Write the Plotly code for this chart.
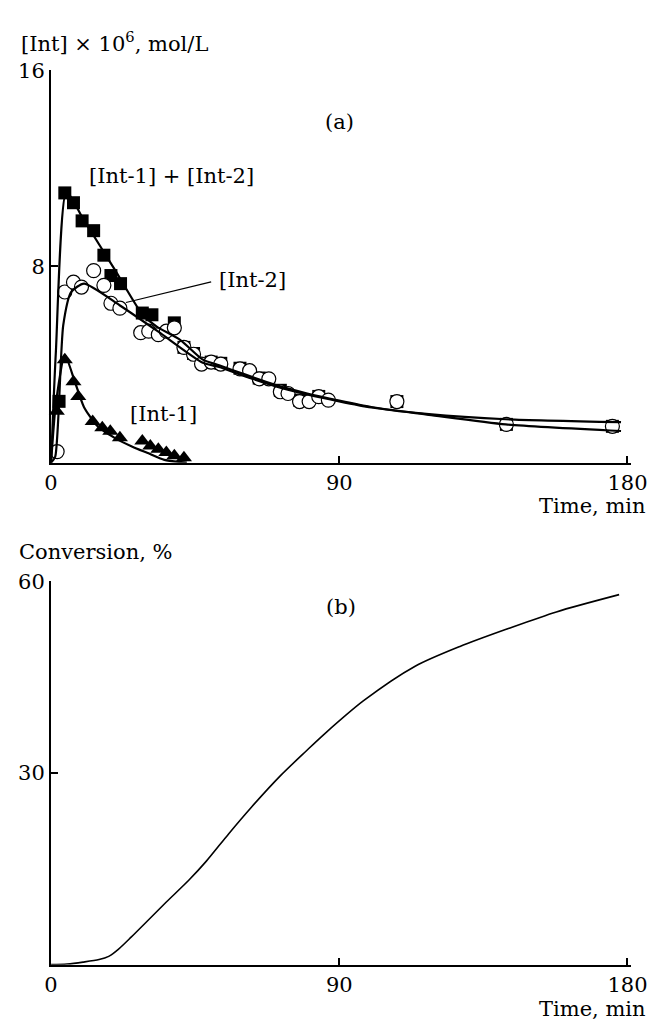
import plotly.graph_objects as go

# ---------------- data ----------------
# Panel (a): experimental points
sum_t = [2.5, 4.3, 7.0, 9.7, 13.3, 16.5, 18.7, 21.7, 28.5, 31.5, 38.5,
         41.5, 44.5, 50, 53, 59, 65, 71.6, 77.6, 83.6, 108, 142.2, 175.3]
sum_v = [2.5, 11.0, 10.6, 9.86, 9.46, 8.46, 7.63, 7.3, 6.1, 6.03, 5.7,
         4.7, 4.45, 4.1, 4.05, 3.85, 3.45, 2.95, 2.55, 2.7, 2.49, 1.56, 1.48]

int2_t = [1.9, 4.3, 7.0, 9.5, 13.3, 16.5, 18.7, 21.5, 28, 30.5, 33.5, 36, 38.5,
          41.5, 44.5, 47, 50, 53, 59, 62, 65, 68, 71.6, 74, 77.6, 80.6, 83.6,
          86.6, 108, 142.2, 175.3]
int2_v = [0.45, 6.96, 7.36, 7.16, 7.83, 7.23, 6.5, 6.3, 5.3, 5.36, 5.22, 5.36, 5.5,
          4.7, 4.42, 4.02, 4.1, 4.02, 3.82, 3.75, 3.42, 3.42, 2.89, 2.82, 2.49, 2.49,
          2.69, 2.55, 2.49, 1.56, 1.48]

int1_t = [1.8, 4.3, 7.0, 8.5, 13, 16, 18.5, 21.5, 28.5, 31, 33.5, 36, 38.5, 41.5]
int1_v = [2.1, 4.2, 3.3, 2.7, 1.68, 1.42, 1.28, 1.02, 0.88, 0.68, 0.55, 0.41, 0.28, 0.2]

# Panel (a): fitted curves
fit_sum_t = [0, 1.5, 4.8, 10, 20, 28.5, 33, 40.4, 47.4, 52.5, 60, 70, 80, 90, 100, 118, 142, 178]
fit_sum_v = [0, 4.5, 11.05, 9.95, 7.85, 6.05, 5.55, 5.0, 4.2, 3.97, 3.62, 3.17, 2.82, 2.53, 2.27, 1.98, 1.77, 1.65]

fit_int2_t = [0, 1.3, 3.8, 6.3, 10.3, 21.4, 33.4, 47.4, 52.5, 60, 70, 80, 90, 100, 118, 142, 178]
fit_int2_v = [0, 0.24, 5.6, 6.96, 7.3, 6.42, 5.35, 4.07, 3.9, 3.55, 3.12, 2.78, 2.5, 2.25, 1.95, 1.56, 1.29]

fit_int1_t = [0, 1.5, 4.3, 7.3, 10.3, 14.3, 20, 25.4, 30, 35.4, 42.4]
fit_int1_v = [0, 2.4, 4.4, 3.35, 2.26, 1.52, 1.0, 0.65, 0.4, 0.11, 0.0]

# Panel (b): conversion curve
conv_t = [0, 5, 10, 15, 18, 21, 25, 30, 36, 43, 48.5, 55.5, 62.5, 71.5, 79.6, 85.6,
          97.6, 113.7, 127.7, 142.8, 157.8, 177.4]
conv_v = [0, 0.1, 0.4, 0.8, 1.3, 2.4, 4.3, 6.8, 9.8, 13.2, 16.2, 20.5, 24.6, 29.5, 33.4,
          36.2, 41.3, 46.7, 49.8, 52.6, 55.2, 57.9]

# tick labels
x_ticks = [0, 90, 180]
ya_ticks = [8, 16]
yb_ticks = [30, 60]

# leader line of the [Int-2] label
leader_t = [23.4, 50]
leader_v = [6.53, 7.37]

# ---------------- figure ----------------
W, H = 665, 1020
FONT = "DejaVu Serif, Liberation Serif, serif"
FS = 21

fig = go.Figure()

# panel (a) markers
fig.add_trace(go.Scatter(x=sum_t, y=sum_v, mode="markers", xaxis="x", yaxis="y",
                         marker=dict(symbol="square", size=13, color="black",
                                     line=dict(width=0)), cliponaxis=False))
fig.add_trace(go.Scatter(x=int2_t, y=int2_v, mode="markers", xaxis="x", yaxis="y",
                         marker=dict(symbol="circle", size=14, color="white",
                                     line=dict(width=1.2, color="black")), cliponaxis=False))
fig.add_trace(go.Scatter(x=int1_t, y=int1_v, mode="markers", xaxis="x", yaxis="y",
                         marker=dict(symbol="triangle-up", size=14, color="black",
                                     line=dict(width=0)), cliponaxis=False))
# panel (a) curves
for tx, vy in [(fit_sum_t, fit_sum_v), (fit_int2_t, fit_int2_v), (fit_int1_t, fit_int1_v)]:
    fig.add_trace(go.Scatter(x=tx, y=vy, mode="lines", xaxis="x", yaxis="y",
                             line=dict(color="black", width=2.2, shape="spline", smoothing=0.6),
                             cliponaxis=False))
# leader line
fig.add_trace(go.Scatter(x=leader_t, y=leader_v, mode="lines", xaxis="x", yaxis="y",
                         line=dict(color="black", width=1.2)))

# panel (b)
fig.add_trace(go.Scatter(x=conv_t, y=conv_v, mode="lines", xaxis="x2", yaxis="y2",
                         line=dict(color="black", width=1.6, shape="spline", smoothing=0.8),
                         cliponaxis=False))

xl, xr = 45.7 / W, 647 / W
axis_common = dict(showline=True, linecolor="black", linewidth=2, ticks="inside",
                   ticklen=7, tickwidth=2, tickcolor="black", showgrid=False, zeroline=False,
                   tickfont=dict(family=FONT, size=FS, color="black"), fixedrange=True)

fig.update_layout(
    width=W, height=H, margin=dict(l=0, r=0, t=0, b=0),
    paper_bgcolor="white", plot_bgcolor="white", showlegend=False,
    xaxis=dict(domain=[xl, xr], range=[0, 181], anchor="y",
               tickvals=x_ticks, ticktext=[str(v) for v in x_ticks], **axis_common),
    yaxis=dict(domain=[1 - 456 / H, 1 - 59 / H], range=[0, 16], anchor="x",
               tickvals=ya_ticks, ticktext=[str(v) for v in ya_ticks], **axis_common),
    xaxis2=dict(domain=[xl, xr], range=[0, 181], anchor="y2",
                tickvals=x_ticks, ticktext=[str(v) for v in x_ticks], **axis_common),
    yaxis2=dict(domain=[1 - 964 / H, 1 - 576 / H], range=[0, 60], anchor="x2",
                tickvals=yb_ticks, ticktext=[str(v) for v in yb_ticks], **axis_common),
)

def txt(x, y, s, xref="paper", yref="paper", xanchor="center", yanchor="middle"):
    fig.add_annotation(x=x, y=y, xref=xref, yref=yref, text=s, showarrow=False,
                       xanchor=xanchor, yanchor=yanchor,
                       font=dict(family=FONT, size=FS, color="black"))

txt(12 / W, 1 - 30 / H, "[Int] × 10<sup>6</sup>, mol/L", xanchor="left")
txt(1.0, 1 - 500 / H, "Time, min", xanchor="right")
txt(10 / W, 1 - 546 / H, "Conversion, %", xanchor="left")
txt(1.0, 1 - 1009 / H, "Time, min", xanchor="right")

txt(90, 13.9, "(a)", xref="x", yref="y")
txt(37.7, 11.67, "[Int-1] + [Int-2]", xref="x", yref="y")
txt(63, 7.43, "[Int-2]", xref="x", yref="y")
txt(35, 2.0, "[Int-1]", xref="x", yref="y")
txt(90.6, 56, "(b)", xref="x2", yref="y2")

fig.write_html("out.html")
